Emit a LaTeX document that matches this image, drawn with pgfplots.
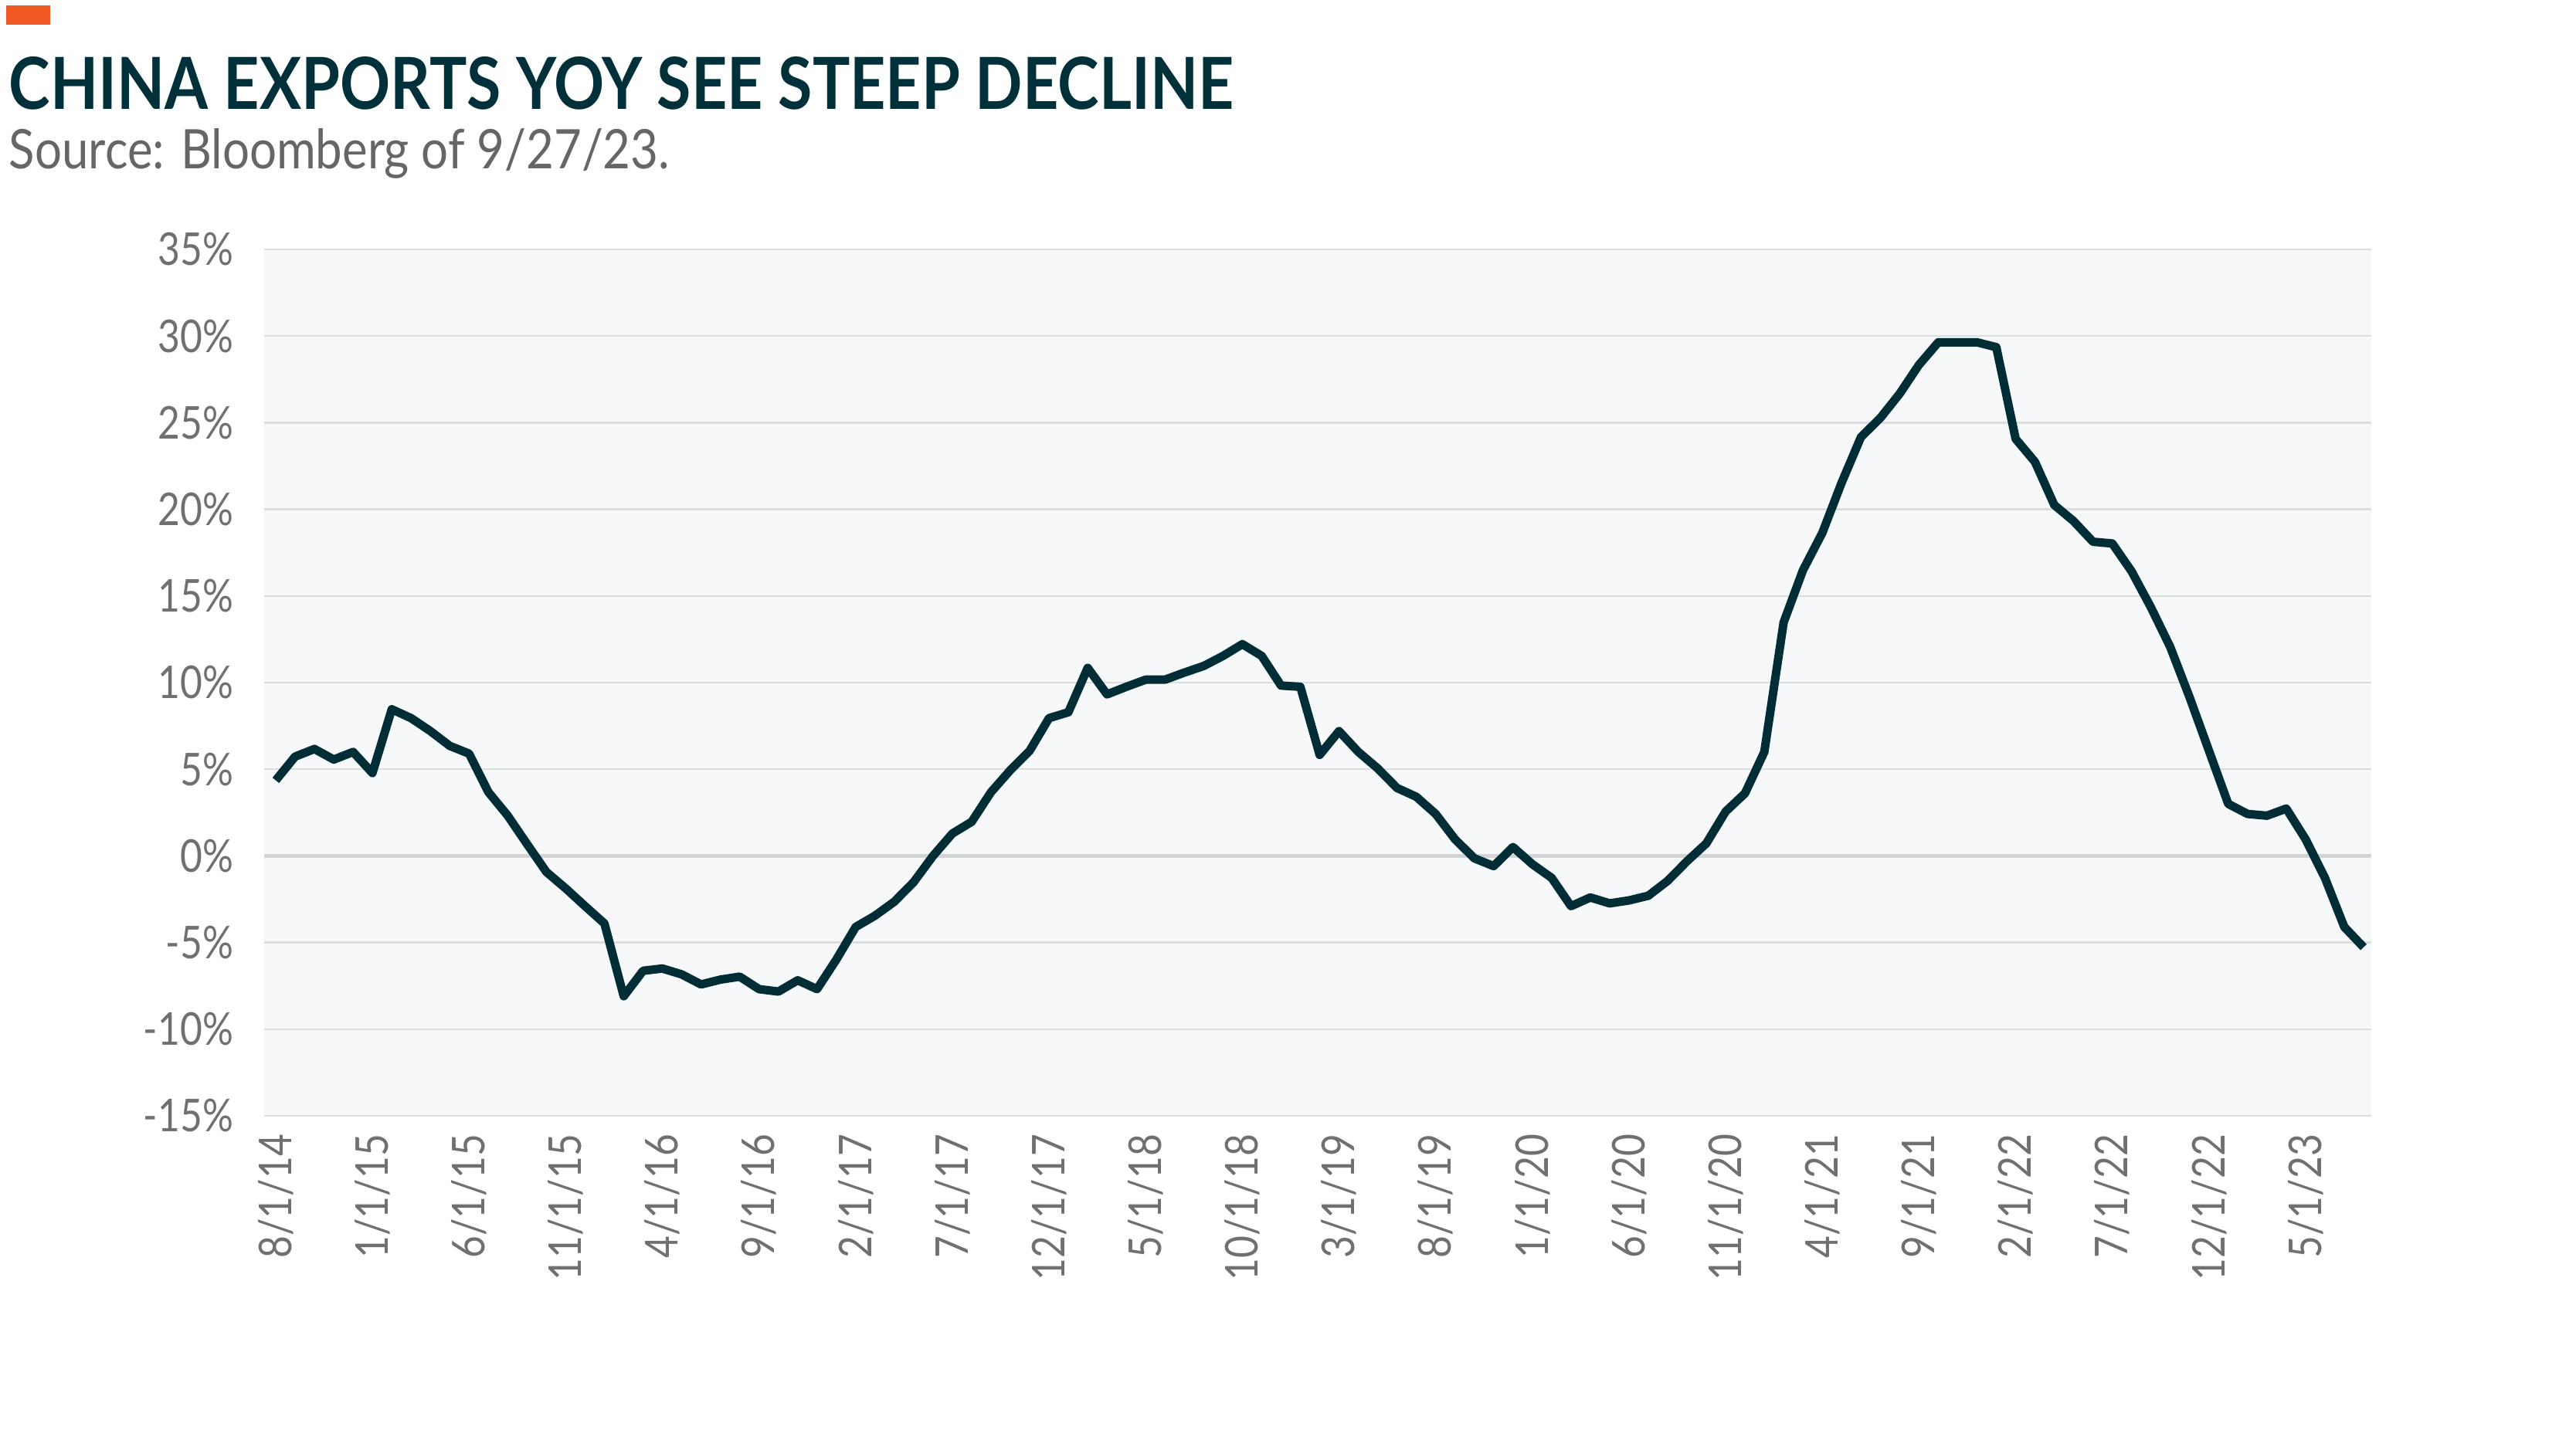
\documentclass[border=0pt]{standalone}
\usepackage{pgfplots}
\pgfplotsset{compat=1.18}
\usepackage{pgfplotstable}
\usepackage{graphicx}
\usepackage{fontspec}
\setmainfont{Lato}
\newfontfamily\tickfont[FakeStretch=0.85]{Lato}

\definecolor{titlecol}{HTML}{00303A}
\definecolor{linecol}{HTML}{012E36}
\definecolor{accent}{HTML}{F15A24}
\definecolor{subgray}{HTML}{666666}
\definecolor{tickgray}{HTML}{707070}
\definecolor{plotbg}{HTML}{F7F8FA}
\definecolor{gridcol}{HTML}{DCDDDF}
\definecolor{zerocol}{HTML}{D2D3D5}

% China exports YoY, monthly from 8/1/14 (index 0)
\pgfplotstableread{
m v
0 4.36
1 5.73
2 6.17
3 5.56
4 6.0
5 4.78
6 8.46
7 7.95
8 7.2
9 6.35
10 5.9
11 3.68
12 2.32
13 0.68
14 -0.93
15 -1.88
16 -2.9
17 -3.9
18 -8.1
19 -6.63
20 -6.5
21 -6.84
22 -7.42
23 -7.14
24 -6.97
25 -7.69
26 -7.83
27 -7.18
28 -7.69
29 -5.98
30 -4.1
31 -3.45
32 -2.64
33 -1.51
34 0.0
35 1.29
36 1.97
37 3.68
38 4.95
39 6.07
40 7.95
41 8.29
42 10.85
43 9.32
44 9.76
45 10.17
46 10.17
47 10.58
48 10.96
49 11.54
50 12.22
51 11.54
52 9.83
53 9.76
54 5.83
55 7.2
56 6.0
57 5.05
58 3.92
59 3.41
60 2.42
61 0.96
62 -0.14
63 -0.59
64 0.51
65 -0.48
66 -1.27
67 -2.9
68 -2.4
69 -2.74
70 -2.57
71 -2.3
72 -1.44
73 -0.31
74 0.72
75 2.56
76 3.61
77 6.0
78 13.48
79 16.49
80 18.64
81 21.54
82 24.17
83 25.27
84 26.67
85 28.34
86 29.64
87 29.64
88 29.64
89 29.36
90 24.07
91 22.74
92 20.25
93 19.32
94 18.13
95 18.03
96 16.42
97 14.34
98 12.05
99 9.15
100 6.07
101 3.0
102 2.42
103 2.32
104 2.73
105 0.96
106 -1.27
107 -4.1
108 -5.27
}\exports

\begin{document}
\begin{tikzpicture}
\path[use as bounding box] (0pt,0pt) rectangle (667pt,-372.2pt);

% header
\fill[accent] (1.6pt,-1.4pt) rectangle (13pt,-6.4pt);
\node[anchor=base west, inner sep=0pt, text=titlecol] at (2.2pt,-28.2pt)
  {\resizebox{317pt}{13.6pt}{\bfseries CHINA EXPORTS YOY SEE STEEP DECLINE}};
\node[anchor=base west, inner sep=0pt, text=subgray] at (2.2pt,-43.6pt)
  {\resizebox{171pt}{10.4pt}{Source: Bloomberg of 9/27/23.}};

\begin{axis}[
  at={(68.4pt,-289pt)}, anchor=south west,
  scale only axis,
  width=545.6pt, height=224.4pt,
  xmin=-0.6, xmax=108.4,
  ymin=-15, ymax=35,
  axis line style={draw=none},
  major tick length=0pt,
  axis background/.style={fill=plotbg},
  ymajorgrids,
  grid style={draw=gridcol, line width=0.5pt},
  ytick={-15,-10,...,35},
  yticklabels={-15\%,-10\%,-5\%,0\%,5\%,10\%,15\%,20\%,25\%,30\%,35\%},
  yticklabel style={font=\tickfont\fontsize{11.7}{13}\selectfont, text=tickgray,
    anchor=east, inner sep=0pt, xshift=-7.8pt},
  xtick={0,5,...,105},
  xticklabels={8/1/14,1/1/15,6/1/15,11/1/15,4/1/16,9/1/16,2/1/17,7/1/17,
    12/1/17,5/1/18,10/1/18,3/1/19,8/1/19,1/1/20,6/1/20,11/1/20,4/1/21,
    9/1/21,2/1/22,7/1/22,12/1/22,5/1/23},
  xticklabel style={font=\tickfont\fontsize{11.7}{13}\selectfont, text=tickgray,
    yshift=-4.6pt, rotate=90, anchor=east, inner sep=0pt},
]
\addplot[zerocol, line width=0.9pt, forget plot] coordinates {(-0.6,0) (108.4,0)};
\addplot[linecol, line width=2.2pt, line join=round, mark=none] table[x=m, y=v] {\exports};
\end{axis}
\end{tikzpicture}
\end{document}
